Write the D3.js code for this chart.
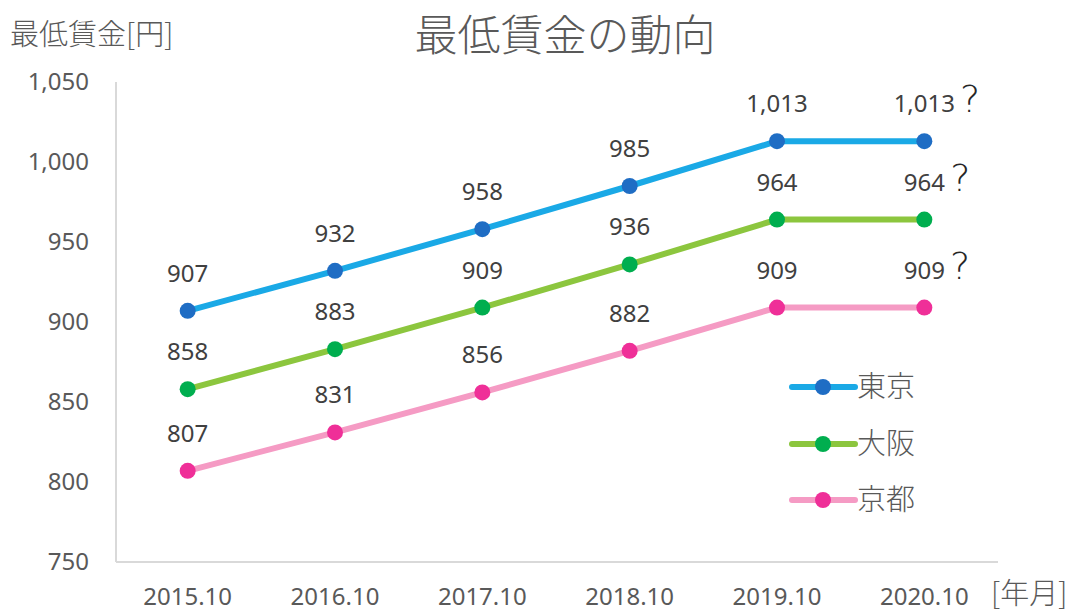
<!DOCTYPE html>
<html><head><meta charset="utf-8">
<script src="https://cdn.jsdelivr.net/npm/d3@7"></script>
<style>
html,body{margin:0;padding:0;background:#fff;}
text{font-family:"Noto Sans","Noto Sans CJK JP",sans-serif;}
.jp{font-family:"Noto Sans CJK JP",sans-serif;font-weight:300;}
</style></head>
<body><svg id="c" width="1077" height="611"></svg>
<script>
const categories = ["2015.10","2016.10","2017.10","2018.10","2019.10","2020.10"];
const tokyo = [907,932,958,985,1013,1013];
const osaka = [858,883,909,936,964,964];
const kyoto = [807,831,856,882,909,909];
const uncertain = [false,false,false,false,false,true];
const seriesNames = ["東京","大阪","京都"];
const yTicks = [750,800,850,900,950,1000,1050];

const seriesData = [
  {name:seriesNames[0], values:tokyo, line:"#1aa9e6", dot:"#1f6dc4"},
  {name:seriesNames[1], values:osaka, line:"#8cc63e", dot:"#00ae4f"},
  {name:seriesNames[2], values:kyoto, line:"#f59bc4", dot:"#ef2f98"}
];

const svg = d3.select("#c");
const x = d3.scaleBand().domain(categories).range([114,998]);
const y = d3.scaleLinear().domain([750,1050]).range([562,82]);
const cx = d => x(d) + x.bandwidth()/2;

// axes
svg.append("line").attr("x1",116).attr("x2",116).attr("y1",y(1050)).attr("y2",y(750))
  .attr("stroke","#d9d9d9").attr("stroke-width",2);
svg.append("line").attr("x1",116).attr("x2",998).attr("y1",y(750)).attr("y2",y(750))
  .attr("stroke","#d9d9d9").attr("stroke-width",2);

svg.selectAll(".yt").data(yTicks).enter().append("text")
  .attr("x",89).attr("y",d=>y(d)).attr("dy","0.35em").attr("text-anchor","end")
  .attr("font-size",24).attr("fill","#595959")
  .text(d=>d3.format(",")(d));

svg.selectAll(".xt").data(categories).enter().append("text")
  .attr("x",d=>cx(d)).attr("y",605).attr("text-anchor","middle")
  .attr("font-size",24).attr("fill","#595959").text(d=>d);

// titles
svg.append("text").attr("class","jp").attr("x",565).attr("y",51).attr("text-anchor","middle")
  .attr("font-size",43).attr("fill","#595959").text("最低賃金の動向");
svg.append("text").attr("class","jp").attr("x",10).attr("y",45)
  .attr("font-size",29).attr("fill","#595959").text("最低賃金[円]");
svg.append("text").attr("class","jp").attr("x",991).attr("y",604)
  .attr("font-size",29).attr("fill","#595959").text("[年月]");

const line = d3.line().x((d,i)=>cx(categories[i])).y(d=>y(d));

seriesData.forEach(s=>{
  svg.append("path").datum(s.values).attr("d",line)
    .attr("fill","none").attr("stroke",s.line).attr("stroke-width",6)
    .attr("stroke-linejoin","round").attr("stroke-linecap","round");
  svg.selectAll(null).data(s.values).enter().append("circle")
    .attr("cx",(d,i)=>cx(categories[i])).attr("cy",d=>y(d)).attr("r",8)
    .attr("fill",s.dot);
  s.values.forEach((v,i)=>{
    const t = svg.append("text").attr("x",cx(categories[i])).attr("y",y(v)-29)
      .attr("text-anchor","middle").attr("font-size",24).attr("fill","#404040")
      .text(d3.format(",")(v));
    if (uncertain[i]) {
      const bb = t.node().getBBox();
      svg.append("text").attr("x",bb.x+bb.width+5).attr("y",y(v)-29)
        .attr("font-size",38).attr("fill","#262626")
        .style("font-family","'DejaVu Sans',sans-serif").style("font-weight","200")
        .text("?");
    }
  });
});

// legend
const legY = [387,444,500];
seriesData.forEach((s,i)=>{
  const g = svg.append("g");
  g.append("line").attr("x1",792).attr("x2",855).attr("y1",legY[i]).attr("y2",legY[i])
    .attr("stroke",s.line).attr("stroke-width",6).attr("stroke-linecap","round");
  g.append("circle").attr("cx",823).attr("cy",legY[i]).attr("r",8).attr("fill",s.dot);
  g.append("text").attr("class","jp").attr("x",857).attr("y",legY[i]).attr("dy","0.36em")
    .attr("font-size",29).attr("fill","#595959").text(s.name);
});
</script></body></html>
